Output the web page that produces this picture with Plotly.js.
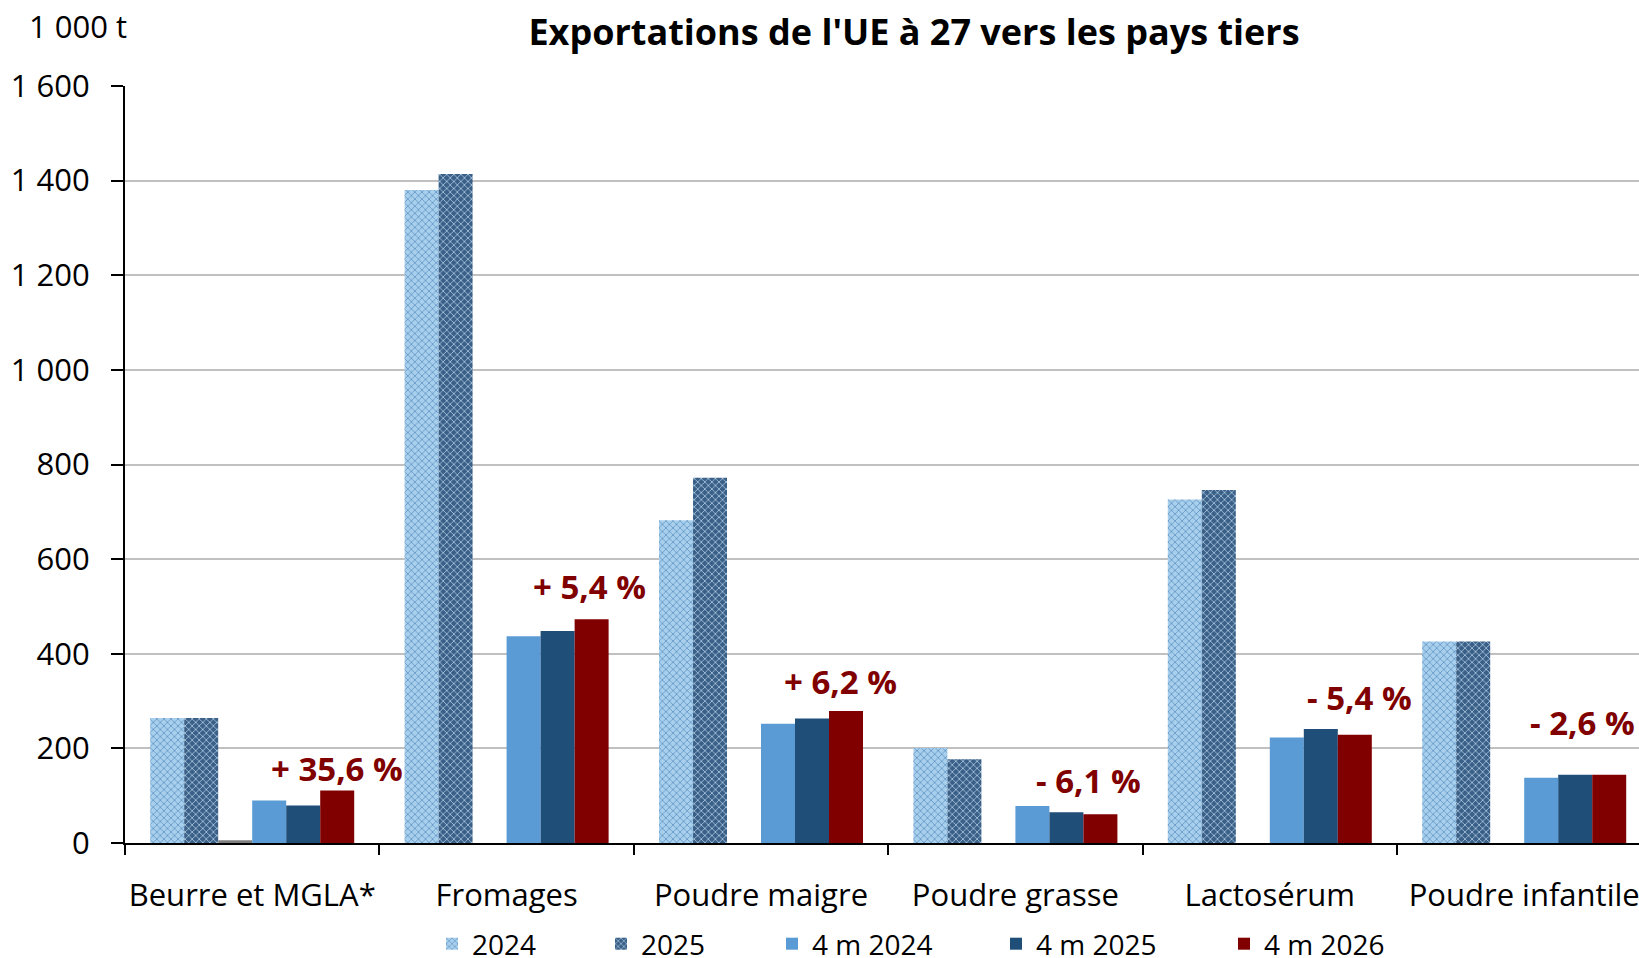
<!DOCTYPE html>
<html>
<head>
<meta charset="utf-8">
<script src="https://cdn.plot.ly/plotly-3.0.1.min.js"></script>
<style>html,body{margin:0;padding:0;background:#fff;overflow:hidden}#chart{width:1639px;height:958px}</style>
</head>
<body>
<div id="chart"></div>
<script>
// ---- data ----
const categories = ["Beurre et MGLA*", "Fromages", "Poudre maigre", "Poudre grasse", "Lactosérum", "Poudre infantile"];
const y2024   = [264, 1380, 682, 201, 726, 426];
const y2025   = [264, 1414, 772, 177, 746, 426];
const spacer  = [6, 0, 0, 0, 0, 0];
const m2024   = [90, 437, 252, 78, 223, 138];
const m2025   = [79, 448, 263, 65, 241, 144];
const m2026   = [111, 473, 279, 61, 229, 144];
const changeLabels = ["+ 35,6 %", "+ 5,4 %", "+ 6,2 %", "- 6,1 %", "- 5,4 %", "- 2,6 %"];
const labelHeights = [158, 543, 342, 132, 307, 254];
const labelShift = [0, -2, -5, -12, 5, -27];
const yTickVals = [0, 200, 400, 600, 800, 1000, 1200, 1400, 1600];
const yTickText = ["0", "200", "400", "600", "800", "1 000", "1 200", "1 400", "1 600"];

const FONT = "Open Sans, Lato, sans-serif";

const traces = [
  {type:'bar', name:'2024', x:categories, y:y2024, legendwidth:124,
   marker:{color:'#a3cdea', line:{width:0}, pattern:{shape:'x', bgcolor:'#a8d0ec', fgcolor:'#6496c6', size:5, solidity:0.3, fillmode:'replace'}}},
  {type:'bar', name:'2025', x:categories, y:y2025, legendwidth:126,
   marker:{color:'#3a6088', line:{width:0}, pattern:{shape:'x', bgcolor:'#3a6088', fgcolor:'#a9c6de', size:5, solidity:0.3, fillmode:'replace'}}},
  {type:'bar', name:'', x:categories, y:spacer, showlegend:false, hoverinfo:'skip',
   marker:{color:'#808080', line:{width:0}}},
  {type:'bar', name:'4 m 2024', x:categories, y:m2024, legendwidth:179,
   marker:{color:'#5b9bd5', line:{width:0}}},
  {type:'bar', name:'4 m 2025', x:categories, y:m2025, legendwidth:183,
   marker:{color:'#1f4e79', line:{width:0}}},
  {type:'bar', name:'4 m 2026', x:categories, y:m2026, legendwidth:150,
   marker:{color:'#800000', line:{width:0}}}
];

const plotL = 125, plotR = 1639, plotT = 86, plotB = 843.5;
const plotH = plotB - plotT, plotW = plotR - plotL;

const annotations = changeLabels.map((t, i) => ({
  x: i + 0.334, y: labelHeights[i], xref:'x', yref:'y', text:t, showarrow:false,
  xshift: labelShift[i], yanchor:'middle', xanchor:'center',
  font:{family:FONT, size:33, color:'#800000', weight:'bold'}
}));
annotations.push({
  x: (27 - plotL) / plotW, y: (plotB - 26) / plotH, xref:'paper', yref:'paper',
  text:'1 000 t', showarrow:false, xanchor:'left', yanchor:'middle',
  font:{family:FONT, size:31, color:'#000'}
});

const layout = {
  width:1639, height:958,
  margin:{l:plotL, r:0, t:plotT, b:958 - plotB, pad:0},
  paper_bgcolor:'#fff', plot_bgcolor:'#fff',
  font:{family:FONT, size:28, color:'#000'},
  title:{text:"Exportations de l'UE à 27 vers les pays tiers", x:914/1639, xanchor:'center', xref:'container',
         y:1 - 32/958, yanchor:'middle', yref:'container',
         font:{family:FONT, size:36, color:'#000', weight:'bold'}},
  barmode:'group', bargap:0.198, bargroupgap:0,
  showlegend:true,
  legend:{orientation:'h', x:432/1639, xanchor:'left', xref:'container', y:1 - 944/958, yanchor:'middle', yref:'container',
          font:{family:FONT, size:28, color:'#000'}, bgcolor:'rgba(0,0,0,0)', itemwidth:30, traceorder:'normal'},
  xaxis:{type:'category', range:[-0.5, -0.5 + plotW/254.4], tickson:'boundaries', ticks:'outside', ticklen:10, tickwidth:2,
         tickcolor:'#000', showline:true, linecolor:'#000', linewidth:2, showgrid:false, automargin:false, tickangle:0,
         ticklabelstandoff:24, tickfont:{family:FONT, size:31, color:'#000'}, fixedrange:true},
  yaxis:{range:[0,1600], tickvals:yTickVals, ticktext:yTickText, ticks:'outside', ticklen:12, tickwidth:2,
         tickcolor:'#000', showline:true, linecolor:'#000', linewidth:2, showgrid:true, gridcolor:'#c0c0c0', gridwidth:2,
         zeroline:false, automargin:false, ticklabelstandoff:15, tickfont:{family:FONT, size:31, color:'#000'}, fixedrange:true},
  annotations:annotations
};

Plotly.newPlot('chart', traces, layout, {displayModeBar:false, staticPlot:true});
</script>
</body>
</html>
